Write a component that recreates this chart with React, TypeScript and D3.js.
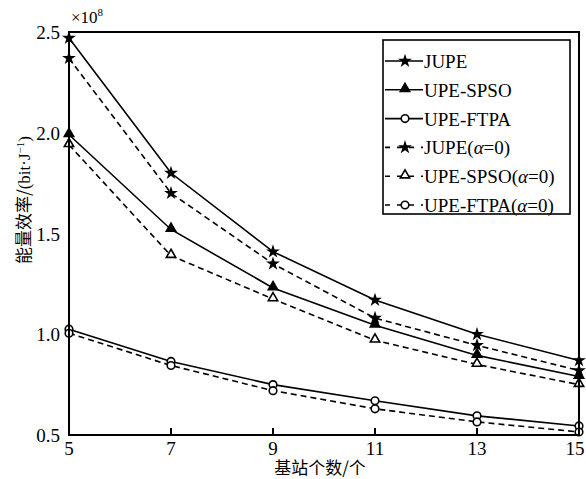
import React, { useEffect, useRef } from 'react';
import * as d3 from 'd3';

const stations = [5, 7, 9, 11, 13, 15];
const jupe = [2.47, 1.8, 1.41, 1.17, 1.0, 0.87];
const spso = [1.99, 1.52, 1.23, 1.045, 0.895, 0.79];
const ftpa = [1.025, 0.865, 0.75, 0.67, 0.595, 0.545];
const jupeA0 = [2.37, 1.7, 1.35, 1.08, 0.945, 0.82];
const spsoA0 = [1.94, 1.39, 1.175, 0.97, 0.85, 0.75];
const ftpaA0 = [1.005, 0.845, 0.72, 0.63, 0.565, 0.515];
const yTicks = [0.5, 1.0, 1.5, 2.0, 2.5];

const series = [
  { name: 'JUPE', values: jupe, marker: 'star', dashed: false },
  { name: 'UPE-SPSO', values: spso, marker: 'tri', dashed: false },
  { name: 'UPE-FTPA', values: ftpa, marker: 'circle', dashed: false },
  { name: 'JUPE', values: jupeA0, marker: 'star', dashed: true },
  { name: 'UPE-SPSO', values: spsoA0, marker: 'tri', dashed: true },
  { name: 'UPE-FTPA', values: ftpaA0, marker: 'circle', dashed: true }
];

const serif = '"Liberation Serif", "Times New Roman", serif';
const cjk = '"Noto Sans CJK SC", sans-serif';

const App = () => {
  const ref = useRef<HTMLDivElement>(null);

  useEffect(() => {
    const width = 586;
    const height = 479;
    const m = { left: 69, right: 7, top: 32, bottom: 44 };

    d3.select(ref.current).selectAll('svg').remove();
    const svg = d3.select(ref.current)
      .append('svg')
      .attr('width', width)
      .attr('height', height)
      .style('position', 'absolute')
      .style('left', '0px')
      .style('top', '0px')
      .style('background', '#fff');

    const x = d3.scaleLinear().domain([5, 15]).range([m.left, width - m.right]);
    const y = d3.scaleLinear().domain([0.5, 2.5]).range([height - m.bottom, m.top]);

    const drawMarker = (g: any, type: string, cx: number, cy: number, dashed: boolean) => {
      if (type === 'star') {
        g.append('path')
          .attr('d', d3.symbol().type(d3.symbolStar).size(60)())
          .attr('transform', `translate(${cx},${cy})`)
          .attr('fill', '#000');
      } else if (type === 'tri') {
        g.append('path')
          .attr('d', d3.symbol().type(d3.symbolTriangle).size(38)())
          .attr('transform', `translate(${cx},${cy - 1})`)
          .attr('fill', dashed ? '#fff' : '#000')
          .attr('stroke', '#000')
          .attr('stroke-width', 1.6);
      } else {
        g.append('circle')
          .attr('cx', cx)
          .attr('cy', cy)
          .attr('r', 3.8)
          .attr('fill', '#fff')
          .attr('stroke', '#000')
          .attr('stroke-width', 1.6);
      }
    };

    const line = d3.line<number>()
      .x((_, i) => x(stations[i]))
      .y(d => y(d));

    const plot = svg.append('g');
    series.forEach(s => {
      plot.append('path')
        .datum(s.values)
        .attr('d', line)
        .attr('fill', 'none')
        .attr('stroke', '#000')
        .attr('stroke-width', 1.6)
        .attr('stroke-dasharray', s.dashed ? '6,4' : null);
    });
    series.forEach(s => {
      s.values.forEach((v, i) => drawMarker(plot, s.marker, x(stations[i]), y(v), s.dashed));
    });

    // frame
    svg.append('rect')
      .attr('x', m.left)
      .attr('y', m.top)
      .attr('width', width - m.left - m.right)
      .attr('height', height - m.top - m.bottom)
      .attr('fill', 'none')
      .attr('stroke', '#000')
      .attr('stroke-width', 2);

    // x ticks
    const xAxis = svg.append('g');
    stations.forEach(t => {
      xAxis.append('line')
        .attr('x1', x(t)).attr('x2', x(t))
        .attr('y1', y(0.5)).attr('y2', y(0.5) - 7)
        .attr('stroke', '#000').attr('stroke-width', 2);
      xAxis.append('text')
        .attr('x', t === 15 ? x(t) - 4 : x(t))
        .attr('y', y(0.5) + 20)
        .attr('text-anchor', 'middle')
        .style('font-family', serif)
        .style('font-size', '19px')
        .text(t);
    });

    // y labels
    yTicks.forEach(t => {
      svg.append('text')
        .attr('x', m.left - 9)
        .attr('y', y(t) + 7)
        .attr('text-anchor', 'end')
        .style('font-family', serif)
        .style('font-size', '19px')
        .text(d3.format('.1f')(t));
    });

    // multiplier
    const mult = svg.append('text')
      .attr('x', 71)
      .attr('y', 23)
      .style('font-family', serif)
      .style('font-size', '17px');
    mult.append('tspan').text('×10');
    mult.append('tspan').attr('dy', -7).style('font-size', '11px').text('8');

    // axis titles
    svg.append('text')
      .attr('x', 320)
      .attr('y', 474)
      .attr('text-anchor', 'middle')
      .style('font-family', cjk)
      .style('font-size', '17px')
      .text('基站个数/个');

    const yt = svg.append('text')
      .attr('transform', `translate(30,${200}) rotate(-90)`)
      .attr('text-anchor', 'middle')
      .style('font-size', '17px');
    yt.append('tspan').style('font-family', cjk).text('能量效率/');
    yt.append('tspan').style('font-family', serif).text('(bit·J');
    yt.append('tspan').style('font-family', serif).style('font-size', '11px').attr('dy', -6).text('−1');
    yt.append('tspan').style('font-family', serif).attr('dy', 6).text(')');

    // legend
    const lg = svg.append('g');
    lg.append('rect')
      .attr('x', 383).attr('y', 40)
      .attr('width', 187).attr('height', 174)
      .attr('fill', '#fff')
      .attr('stroke', '#000')
      .attr('stroke-width', 1.6);
    series.forEach((s, i) => {
      const ly = 61 + i * 28.8;
      lg.append('line')
        .attr('x1', 385).attr('x2', 423)
        .attr('y1', ly).attr('y2', ly)
        .attr('stroke', '#000').attr('stroke-width', 1.6)
        .attr('stroke-dasharray', s.dashed ? '5,7' : null);
      drawMarker(lg, s.marker, 405, ly, s.dashed);
      const t = lg.append('text')
        .attr('x', 424)
        .attr('y', ly + 7)
        .style('font-family', serif)
        .style('font-size', '19px');
      t.append('tspan').text(s.name);
      if (s.dashed) {
        t.append('tspan').text('(');
        t.append('tspan').style('font-style', 'italic').text('α');
        t.append('tspan').text('=0)');
      }
    });
  }, []);

  return <div ref={ref}></div>;
};

export default App;
